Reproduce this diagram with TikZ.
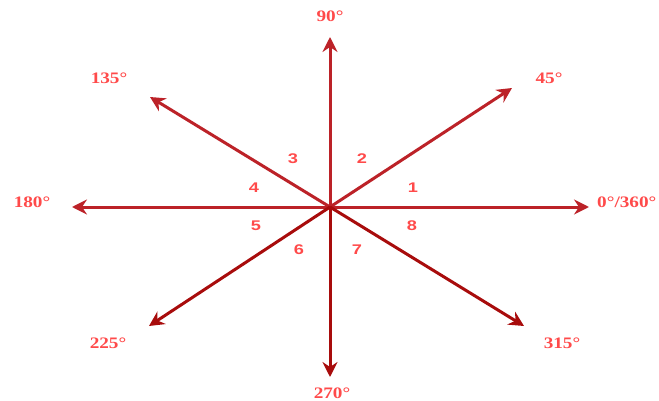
\documentclass[tikz,border=0pt]{standalone}
\usepackage{fontspec}
\setmainfont{Liberation Serif}
\newfontfamily\secfont{Liberation Sans}
\usetikzlibrary{arrows.meta}
\definecolor{arrowred}{HTML}{BC2228}
\definecolor{arrowdark}{HTML}{A80C0C}
\definecolor{labelred}{HTML}{FF4A4A}
\tikzset{
  dirarrow/.style={-{Stealth[length=15pt,width=15pt,inset=5pt]}, line width=3pt},
  deglabel/.style={text=labelred, font=\bfseries\fontsize{16}{16}\selectfont, xscale=1.2, inner sep=0pt},
  seclabel/.style={text=labelred, font=\secfont\bfseries\fontsize{14}{14}\selectfont, xscale=1.3, inner sep=0pt}
}
\begin{document}
\begin{tikzpicture}[x=1pt, y=-1pt]
  \useasboundingbox (0,0) rectangle (659,401);
  \coordinate (o) at (330,207);
  % arrow tips
  \foreach \n/\x/\y in {e/589/207, ne/512/88, n/330/37, nw/150/97, w/72/207} \coordinate (\n) at (\x,\y);
  \foreach \n/\x/\y in {sw/149/326, s/330/377, se/524/326} \coordinate (\n) at (\x,\y);
  \foreach \n in {e,ne,n,nw,w} \draw[dirarrow, arrowred] (o) -- (\n);
  \foreach \n in {sw,s,se} \draw[dirarrow, arrowdark] (o) -- (\n);
  % degree labels
  \node[deglabel] (l90) at (330,16) {90°};
  \node[deglabel, anchor=west] (l0) at (597,202) {0°/360°};
  \node[deglabel] (l180) at (32,202) {180°};
  \node[deglabel] (l45) at (549,78) {45°};
  \node[deglabel] (l135) at (109,78) {135°};
  \node[deglabel] (l225) at (108,343) {225°};
  \node[deglabel] (l315) at (562,343) {315°};
  \node[deglabel] (l270) at (332,393) {270°};
  % sector numbers
  \foreach \k/\x/\y in {1/413/188, 2/362/159, 3/293/159, 4/254/188, 5/256/226, 6/299/250, 7/357/250, 8/412/226}
    \node[seclabel] (s\k) at (\x,\y) {\k};
\end{tikzpicture}
\end{document}
